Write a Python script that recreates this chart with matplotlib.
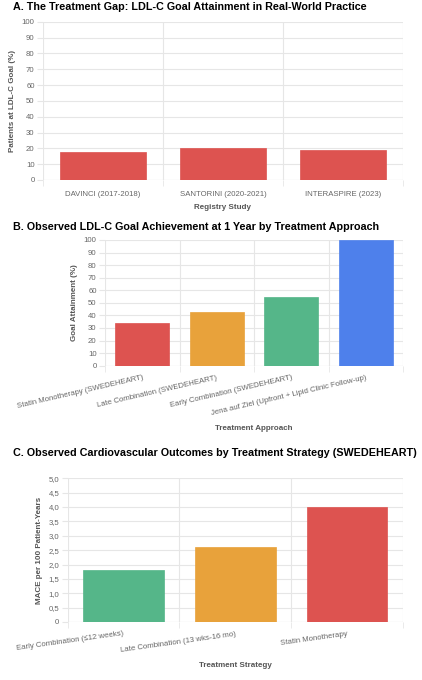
import matplotlib.pyplot as plt
from matplotlib.ticker import FuncFormatter

plt.rcParams['font.family'] = ['Liberation Sans', 'DejaVu Sans']

# panel A
registries = ['DAVINCI (2017-2018)', 'SANTORINI (2020-2021)', 'INTERASPIRE (2023)']
registry_goal = [18, 20.5, 19]

# panel B
approaches = ['Statin Monotherapy (SWEDEHEART)', 'Late Combination (SWEDEHEART)',
              'Early Combination (SWEDEHEART)', 'Jena auf Ziel (Upfront + Lipid Clinic Follow-up)']
approach_goal = [34, 43, 55, 100]

# panel C
strategies = ['Early Combination (\u226412 weeks)', 'Late Combination (13 wks-16 mo)', 'Statin Monotherapy']
mace_rate = [1.8, 2.6, 4.0]

red = '#dd5350'
orange = '#e8a23b'
green = '#55b689'
blue = '#4e80eb'
tick_col = '#666666'
grid_col = '#e6e6e6'
label_col = '#555555'

W, H = 422, 680
fig = plt.figure(figsize=(W / 100, H / 100), dpi=100)


def box(x0, y0, x1, y1):
    return [x0 / W, 1 - y1 / H, (x1 - x0) / W, (y1 - y0) / H]


def style(ax, n, ymax, step):
    ax.set_xlim(-0.5, n - 0.5)
    ax.set_ylim(0, ymax)
    ax.set_yticks([i * step for i in range(int(round(ymax / step)) + 1)])
    ax.set_xticks([i - 0.5 for i in range(n + 1)], minor=True)
    ax.grid(True, which='minor', axis='x', color=grid_col, lw=0.8)
    ax.grid(True, which='major', axis='y', color=grid_col, lw=0.8)
    ax.set_axisbelow(True)
    for s in ax.spines.values():
        s.set_visible(False)
    ax.tick_params(axis='y', length=4, color=grid_col, labelsize=5.6, labelcolor=tick_col, pad=2)
    ax.tick_params(axis='x', which='major', length=0, labelsize=5.6, labelcolor=tick_col)
    ax.tick_params(axis='x', which='minor', length=4, color=grid_col)
    ax.axhline(0, color=grid_col, lw=0.8, zorder=0.5)


# A
ax1 = fig.add_axes(box(43, 21.7, 403, 180))
ax1.bar(range(3), registry_goal, width=0.72, color=red, edgecolor=red, lw=0.5)
style(ax1, 3, 100, 10)
ax1.set_xticks(range(3))
ax1.set_xticklabels(registries)
ax1.tick_params(axis='x', pad=8)
ax1.set_xlabel('Registry Study', fontsize=5.8, fontweight='bold', color=label_col, labelpad=4)
ax1.set_ylabel('Patients at LDL-C Goal (%)', fontsize=5.8, fontweight='bold', color=label_col, labelpad=4)
fig.text(13 / W, 1 - 7 / H, 'A. The Treatment Gap: LDL-C Goal Attainment in Real-World Practice',
         fontsize=7.75, fontweight='bold', va='center', ha='left')

# B
ax2 = fig.add_axes(box(105, 240, 403, 365.7))
ax2.bar(range(4), approach_goal, width=0.72, color=[red, orange, green, blue], lw=0.5,
        edgecolor=[red, orange, green, blue])
style(ax2, 4, 100, 10)
ax2.set_xticks(range(4))
ax2.set_xticklabels(approaches, rotation=13, ha='right', rotation_mode='anchor')
ax2.tick_params(axis='x', pad=6)
ax2.set_xlabel('Treatment Approach', fontsize=5.8, fontweight='bold', color=label_col, labelpad=6)
ax2.set_ylabel('Goal Attainment (%)', fontsize=5.8, fontweight='bold', color=label_col, labelpad=4)
fig.text(13 / W, 1 - 226.7 / H, 'B. Observed LDL-C Goal Achievement at 1 Year by Treatment Approach',
         fontsize=7.75, fontweight='bold', va='center', ha='left')

# C
ax3 = fig.add_axes(box(67.7, 478.3, 403, 622))
ax3.bar(range(3), mace_rate, width=0.72, color=[green, orange, red], lw=0.5,
        edgecolor=[green, orange, red])
style(ax3, 3, 5.0, 0.5)
ax3.yaxis.set_major_formatter(FuncFormatter(lambda v, p: '0' if v == 0 else ('%.1f' % v).replace('.', ',')))
ax3.set_xticks(range(3))
ax3.set_xticklabels(strategies, rotation=8, ha='right', rotation_mode='anchor')
ax3.tick_params(axis='x', pad=6)
ax3.set_xlabel('Treatment Strategy', fontsize=5.8, fontweight='bold', color=label_col, labelpad=6)
ax3.set_ylabel('MACE per 100 Patient-Years', fontsize=5.8, fontweight='bold', color=label_col, labelpad=4)
fig.text(13 / W, 1 - 453 / H, 'C. Observed Cardiovascular Outcomes by Treatment Strategy (SWEDEHEART)',
         fontsize=7.75, fontweight='bold', va='center', ha='left')

fig.savefig('out.png', dpi=100, facecolor='white')
